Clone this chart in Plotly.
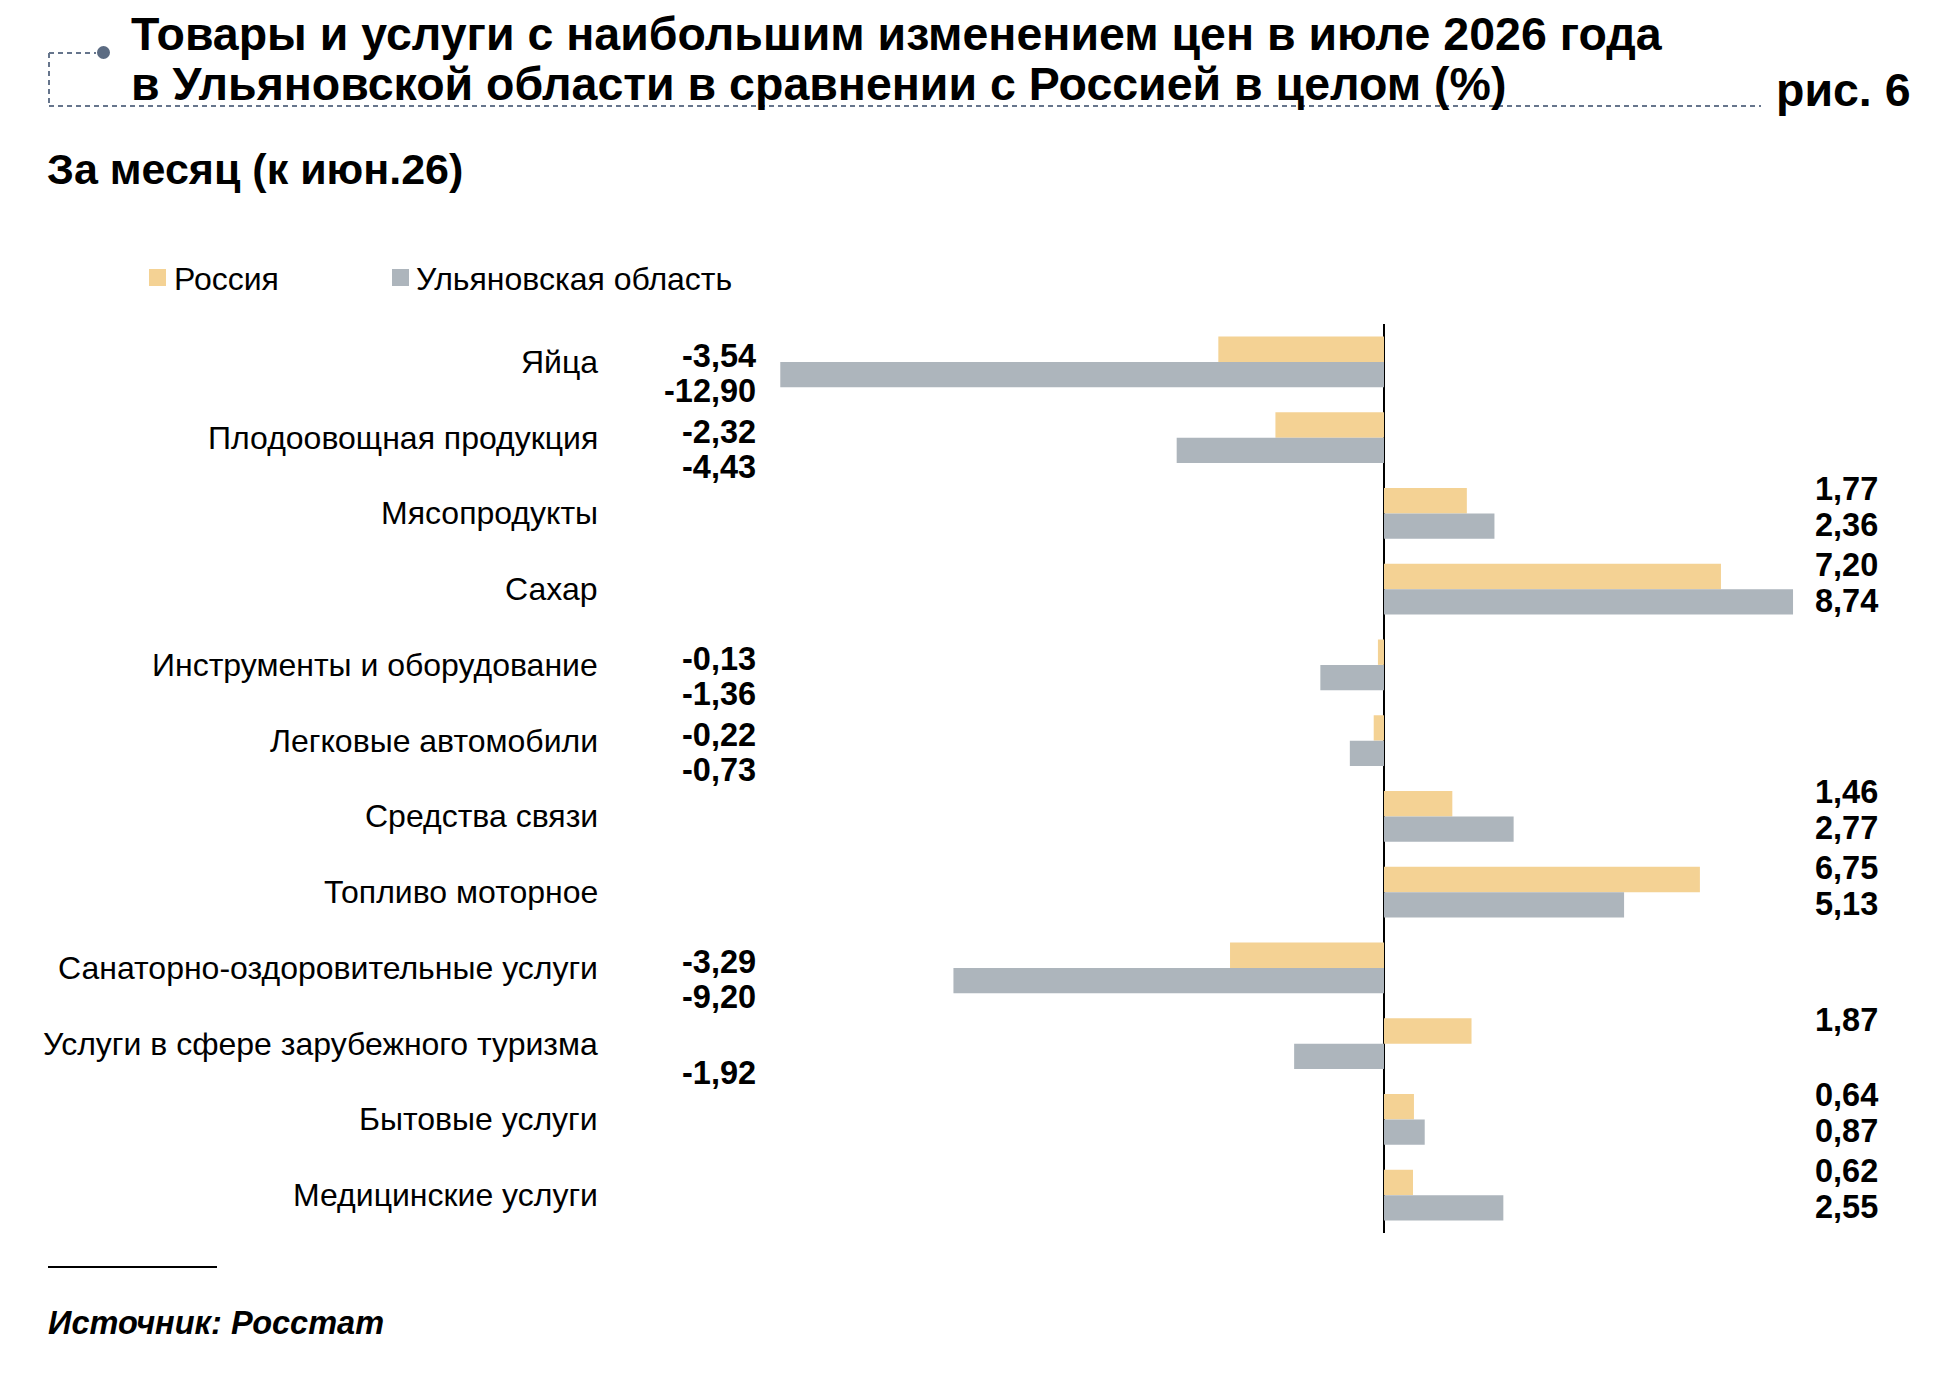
import plotly.graph_objects as go

# данные: изменение цен за месяц (к июн.26), %
categories = [
    "Яйца",
    "Плодоовощная продукция",
    "Мясопродукты",
    "Сахар",
    "Инструменты и оборудование",
    "Легковые автомобили",
    "Средства связи",
    "Топливо моторное",
    "Санаторно-оздоровительные услуги",
    "Услуги в сфере зарубежного туризма",
    "Бытовые услуги",
    "Медицинские услуги",
]
series_names = ["Россия", "Ульяновская область"]
russia = [-3.54, -2.32, 1.77, 7.20, -0.13, -0.22, 1.46, 6.75, -3.29, 1.87, 0.64, 0.62]
ulyanovsk = [-12.90, -4.43, 2.36, 8.74, -1.36, -0.73, 2.77, 5.13, -9.20, -1.92, 0.87, 2.55]

# страница имеет отступ 8px, поэтому фигура чуть меньше окна
OFF = 8
W, H = 1935 - OFF, 1384 - OFF
FONT = "Liberation Sans"
COL_RU = "#F4D294"
COL_UL = "#ADB5BC"
DECO = "#66758C"


def px(x):
    return (x - OFF) / W


def py(y):
    return 1 - (y - OFF) / H


def fmt(v):
    return f"{v:.2f}".replace(".", ",")


# пиксельная геометрия области графика (в координатах окна)
zero_px = 1384
scale = 46.8  # пикселей на 1 п.п.
left_px, right_px = 700, 1900
x_range = [(left_px - zero_px) / scale, (right_px - zero_px) / scale]

fig = go.Figure()
fig.add_trace(go.Bar(y=categories, x=russia, orientation="h", name=series_names[0],
                     marker=dict(color=COL_RU, line=dict(width=0))))
fig.add_trace(go.Bar(y=categories, x=ulyanovsk, orientation="h", name=series_names[1],
                     marker=dict(color=COL_UL, line=dict(width=0))))

annotations = []
# подписи категорий
for c in categories:
    annotations.append(dict(x=px(600), xref="paper", y=c, yref="y", text=c,
                            xanchor="right", yanchor="middle", showarrow=False,
                            font=dict(family=FONT, size=32, color="#000")))

# подписи значений
pos_x = (1880 - zero_px) / scale
neg_x = (758 - zero_px) / scale
for c, r, u in zip(categories, russia, ulyanovsk):
    for v, shift_pos, shift_neg in ((r, 24, 5.5), (u, -11.5, -29)):
        neg = v < 0
        annotations.append(dict(x=neg_x if neg else pos_x, xref="x", y=c, yref="y",
                                yshift=shift_neg if neg else shift_pos,
                                text=fmt(v), xanchor="right", yanchor="middle",
                                showarrow=False,
                                font=dict(family=FONT, size=32.5, color="#000", weight="bold")))

# легенда
shapes = []
for name, col, sx, tx in ((series_names[0], COL_RU, 149, 172), (series_names[1], COL_UL, 392, 414)):
    shapes.append(dict(type="rect", xref="paper", yref="paper", x0=px(sx), x1=px(sx + 17),
                       y0=py(286), y1=py(269), fillcolor=col, line=dict(width=0)))
    annotations.append(dict(x=px(tx), y=py(279), xref="paper", yref="paper",
                            xanchor="left", yanchor="middle", text=name, showarrow=False,
                            font=dict(family=FONT, size=32, color="#000")))

# заголовки
annotations += [
    dict(x=px(129), y=py(34), xref="paper", yref="paper", xanchor="left", yanchor="middle",
         text="Товары и услуги с наибольшим изменением цен в июле 2026 года", showarrow=False,
         font=dict(family=FONT, size=46.5, color="#000", weight="bold")),
    dict(x=px(129), y=py(84), xref="paper", yref="paper", xanchor="left", yanchor="middle",
         text="в Ульяновской области в сравнении с Россией в целом (%)", showarrow=False,
         font=dict(family=FONT, size=46.5, color="#000", weight="bold")),
    dict(x=px(1913), y=py(90), xref="paper", yref="paper", xanchor="right", yanchor="middle",
         text="рис. 6", showarrow=False,
         font=dict(family=FONT, size=46.5, color="#000", weight="bold")),
    dict(x=px(45), y=py(169), xref="paper", yref="paper", xanchor="left", yanchor="middle",
         text="За месяц (к июн.26)", showarrow=False,
         font=dict(family=FONT, size=43, color="#000", weight="bold")),
    dict(x=px(46), y=py(1323), xref="paper", yref="paper", xanchor="left", yanchor="middle",
         text="<b><i>Источник: Росстат</i></b>", showarrow=False,
         font=dict(family=FONT, size=32.5, color="#000")),
]

shapes += [
    dict(type="line", xref="paper", yref="paper", x0=px(49), x1=px(96), y0=py(53), y1=py(53),
         line=dict(color=DECO, width=2, dash="5px,4px")),
    dict(type="line", xref="paper", yref="paper", x0=px(49), x1=px(49), y0=py(53), y1=py(106),
         line=dict(color=DECO, width=2, dash="5px,4px")),
    dict(type="line", xref="paper", yref="paper", x0=px(49), x1=px(1761), y0=py(106), y1=py(106),
         line=dict(color=DECO, width=2, dash="5px,4px")),
    dict(type="circle", xref="paper", yref="paper", x0=px(97), x1=px(110), y0=py(46), y1=py(59),
         fillcolor="#5B6B82", line=dict(width=0)),
    dict(type="line", xref="paper", yref="paper", x0=px(48), x1=px(217), y0=py(1267), y1=py(1267),
         line=dict(color="#000", width=2)),
]

fig.update_layout(
    width=W, height=H,
    margin=dict(l=0, r=0, t=0, b=0),
    paper_bgcolor="white", plot_bgcolor="white",
    barmode="group", bargap=0.33, bargroupgap=0,
    font=dict(family=FONT, size=30, color="#000"),
    showlegend=False,
    xaxis=dict(domain=[px(left_px), px(right_px)], range=x_range, showgrid=False,
               showticklabels=False, ticks="", zeroline=True, zerolinecolor="#000",
               zerolinewidth=1.5, fixedrange=True),
    yaxis=dict(domain=[py(1233), py(324)], range=[11.5, -0.5], showgrid=False,
               showticklabels=False, ticks="", zeroline=False, fixedrange=True),
    annotations=annotations,
    shapes=shapes,
)

fig.write_html("out.html")
